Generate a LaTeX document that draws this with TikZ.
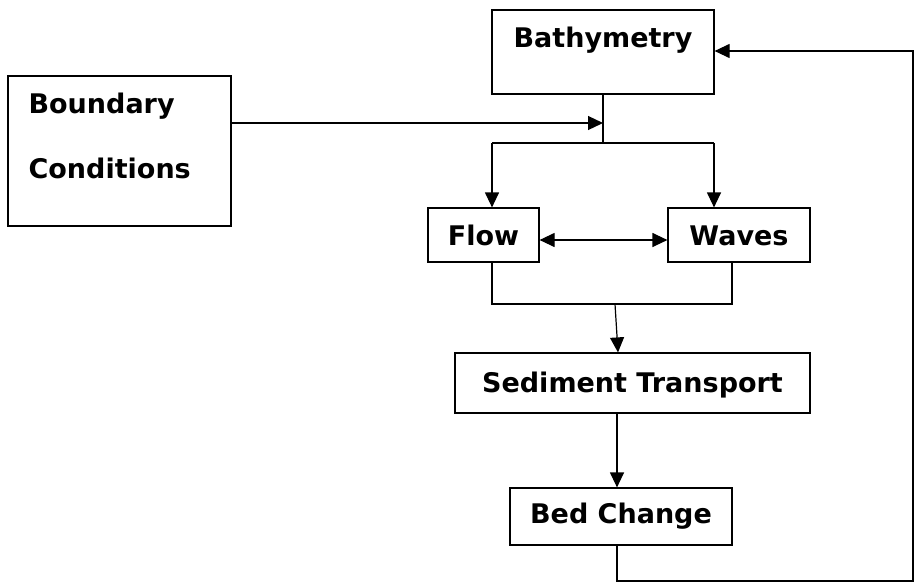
\documentclass[tikz,border=0pt]{standalone}
\usepackage{fontspec}
\setmainfont{DejaVu Sans}
\usetikzlibrary{arrows.meta}
\begin{document}
\begin{tikzpicture}[x=1pt,y=-1pt,line width=1.2pt,
  lbl/.style={font=\bfseries\fontsize{27}{30}\selectfont},
  box/.style={draw,line width=1.2pt,inner sep=0pt,lbl,anchor=base},
  txt/.style={inner sep=0pt,lbl,anchor=base west},
  arr/.style={-{Triangle[length=15pt,width=14pt]}},
  darr/.style={{Triangle[length=15pt,width=14pt]}-{Triangle[length=15pt,width=14pt]}}]
\useasboundingbox (0,0) rectangle (915,584);
% boxes
\node[box,minimum width=222pt,text height=37pt,text depth=47pt] (bath) at (603,47) {Bathymetry};
\node[draw,line width=1.2pt,inner sep=0pt,minimum width=223pt,minimum height=150pt] (bc) at (119.5,151) {};
\node[txt] (bc1) at (28,113) {Boundary};
\node[txt] (bc2) at (28,178) {Conditions};
\node[box,minimum width=111pt,text height=37pt,text depth=17pt] (flow) at (483.5,245) {Flow};
\node[box,minimum width=142pt,text height=37pt,text depth=17pt] (waves) at (739,245) {Waves};
\node[box,minimum width=355pt,text height=39pt,text depth=21pt] (sed) at (632.5,392) {Sediment Transport};
\node[box,minimum width=222pt,text height=35pt,text depth=22pt] (bed) at (621,523) {Bed Change};
% coordinates
\coordinate (split) at (603,143);
\coordinate (bcin) at (603,123);
\coordinate (fl) at (492,143);
\coordinate (wv) at (714,143);
\coordinate (fw) at (600,240);
\coordinate (m1) at (492,304);
\coordinate (m2) at (732,304);
\coordinate (m0) at (615,304);
\coordinate (sedtop) at (618,0);
\coordinate (st) at (617,0);
\coordinate (c1) at (617,581);
\coordinate (c2) at (913,581);
\coordinate (c3) at (913,51);
% connectors
\draw (bath.south) -- (split);
\draw[arr] (bc.east |- bcin) -- (bcin);
\draw (fl) -- (wv);
\draw[arr] (fl) -- (fl |- flow.north);
\draw[arr] (wv) -- (wv |- waves.north);
\draw[darr] (flow.east |- fw) -- (waves.west |- fw);
\draw (m1 |- flow.south) -- (m1) -- (m2) -- (m2 |- waves.south);
\draw[arr] (m0) -- (sedtop |- sed.north);
\draw[arr] (st |- sed.south) -- (st |- bed.north);
\draw[arr] (st |- bed.south) -- (c1) -- (c2) -- (c3) -- (bath.east |- c3);
\end{tikzpicture}
\end{document}
